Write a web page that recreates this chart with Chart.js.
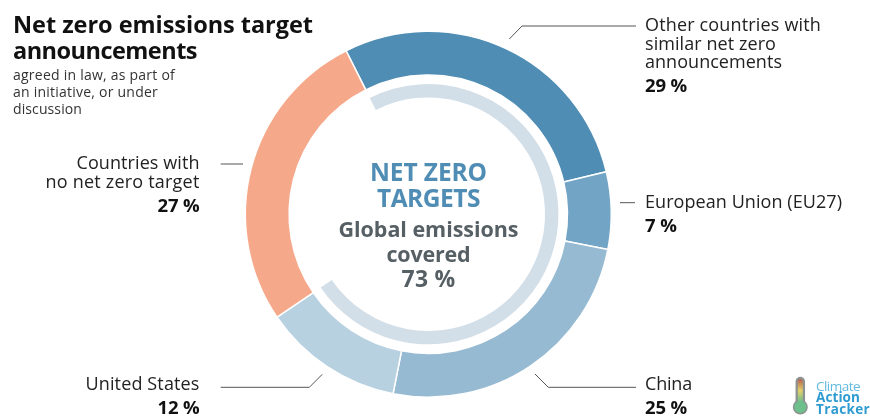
<!DOCTYPE html>
<html>
<head>
<meta charset="utf-8">
<style>html,body{margin:0;padding:0;background:#fff;overflow:hidden}canvas{display:block}</style>
<script src="https://cdn.jsdelivr.net/npm/chart.js@4"></script>
</head>
<body>
<canvas id="c" width="870" height="416" style="width:870px;height:416px"></canvas>
<script>
const categories = ["Other countries with similar net zero announcements","European Union (EU27)","China","United States","Countries with no net zero target"];
const shares = [28.7, 6.8, 25, 12.4, 27.1];
const coveredShares = [72.9, 27.1];
const coveredLabel = 73;

const FONT = '"Open Sans"';
const segmentColors = ["#4f8db5","#72a4c5","#96bad2","#b8d1e1","#f6a98a"];

// text lines with fitted widths, value index, x, align, baselines, value baseline
const labelLayout = [
  {lines:["Other countries with","similar net zero","announcements"], w:[176,131,137], i:0, x:645, align:"left", ys:[31,50,68], vy:92, vw:42},
  {lines:["European Union (EU27)"], w:[197], i:1, x:645, align:"left", ys:[208], vy:232, vw:32},
  {lines:["China"], w:[47], i:2, x:645, align:"left", ys:[390], vy:414, vw:42},
  {lines:["United States"], w:[114], i:3, x:199.5, align:"right", ys:[390], vy:414, vw:42},
  {lines:["Countries with","no net zero target"], w:[123,154], i:4, x:199.5, align:"right", ys:[169,188], vy:212, vw:42}
];
const leaders = [
  [[509.3,39],[522,26],[636,26]],
  [[620,202.7],[635,202.7]],
  [[535,374],[548.3,387.3],[636,387.3]],
  [[220.7,387.3],[309.3,387.3],[322.3,374.3]],
  [[220.7,164],[243,164]]
];

function put(ctx, text, x, y, font, color, align, width){
  ctx.font = font; ctx.fillStyle = color; ctx.textAlign = align || "left";
  ctx.textBaseline = "alphabetic"; ctx.letterSpacing = "0px";
  let s = 0;
  if (width) s = (width - ctx.measureText(text).width) / text.length;
  ctx.letterSpacing = s + "px";
  ctx.fillText(text, x, y);
}

const annotations = {
  id:"annotations",
  afterDraw(chart){
    const ctx = chart.ctx;
    ctx.save();
    // leader lines
    ctx.strokeStyle = "#555"; ctx.lineWidth = 1;
    leaders.forEach(p=>{
      ctx.beginPath();
      p.forEach((q,k)=> k ? ctx.lineTo(q[0],q[1]) : ctx.moveTo(q[0],q[1]));
      ctx.stroke();
    });
    // title block
    put(ctx,"Net zero emissions target",13,33,`700 23.5px ${FONT}`,"#111","left",300);
    put(ctx,"announcements",13,58.5,`700 23.5px ${FONT}`,"#111","left",184);
    [["agreed in law, as part of",162],["an initiative, or under",145],["discussion",69]].forEach((t,k)=>
      put(ctx,t[0],13,[80,96.7,113.7][k],`400 14px ${FONT}`,"#333","left",t[1]));
    // segment labels
    labelLayout.forEach(l=>{
      l.lines.forEach((t,k)=> put(ctx,t,l.x,l.ys[k],`400 18px ${FONT}`,"#222",l.align,l.w[k]));
      put(ctx,Math.round(shares[l.i])+" %",l.x,l.vy,`700 18.5px ${FONT}`,"#111",l.align,l.vw);
    });
    // centre
    const cx = 428.5;
    put(ctx,"NET ZERO",cx,180.7,`700 24.5px ${FONT}`,"#4f8db5","center",117);
    put(ctx,"TARGETS",cx,206.7,`700 24.5px ${FONT}`,"#4f8db5","center",103);
    put(ctx,"Global emissions",cx,237,`700 21.5px ${FONT}`,"#555f64","center",180);
    put(ctx,"covered",cx,261.7,`700 21.5px ${FONT}`,"#555f64","center",84);
    put(ctx,coveredLabel+" %",cx,287,`700 23px ${FONT}`,"#555f64","center",54);
    // logo
    ctx.lineCap = "round";
    ctx.strokeStyle = "#8d9392"; ctx.lineWidth = 9.5;
    ctx.beginPath(); ctx.moveTo(800.3,381.5); ctx.lineTo(800.3,404); ctx.stroke();
    ctx.fillStyle = "#8d9392"; ctx.beginPath(); ctx.arc(800.3,407,7.5,0,Math.PI*2); ctx.fill();
    const g = ctx.createLinearGradient(0,379,0,402);
    g.addColorStop(0,"#b5604f"); g.addColorStop(0.5,"#e3d06a"); g.addColorStop(1,"#6dbf8b");
    ctx.strokeStyle = g; ctx.lineWidth = 5;
    ctx.beginPath(); ctx.moveTo(800.3,381.5); ctx.lineTo(800.3,404); ctx.stroke();
    ctx.fillStyle = "#6dbf8b"; ctx.beginPath(); ctx.arc(800.3,407,6,0,Math.PI*2); ctx.fill();
    put(ctx,"Climate",816,390.7,`400 13.5px ${FONT}`,"#62bbe0","left",44);
    put(ctx,"Action",816,402.3,`700 13.5px ${FONT}`,"#2e9bd1","left",44);
    put(ctx,"Tracker",816,413.8,`700 13.5px ${FONT}`,"#2e9bd1","left",54);
    ctx.restore();
  }
};

new Chart(document.getElementById("c"),{
  type:"doughnut",
  data:{
    labels:categories,
    datasets:[
      {data:shares, backgroundColor:segmentColors, borderColor:"#fff", borderWidth:1.5, weight:43.5},
      {data:[1], backgroundColor:"rgba(0,0,0,0)", borderWidth:0, weight:9},
      {data:coveredShares, backgroundColor:["#d3dfe8","rgba(0,0,0,0)"], borderWidth:0, weight:13.3}
    ]
  },
  options:{
    responsive:false,
    animation:false,
    rotation:-26.7,
    radius:183,
    cutout:"63.8%",
    layout:{padding:{top:12.4,right:13.4,bottom:0,left:0}},
    events:[],
    plugins:{legend:{display:false},tooltip:{enabled:false},title:{display:false}}
  },
  plugins:[annotations]
});
</script>
</body>
</html>
